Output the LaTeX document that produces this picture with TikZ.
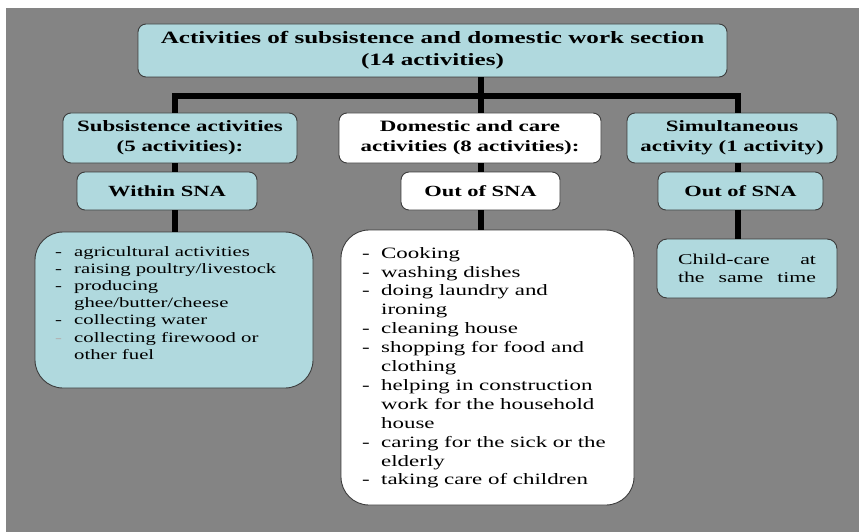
\documentclass[tikz,border=0pt]{standalone}
\usepackage{fontspec}
\setmainfont{Liberation Serif}[FakeStretch=1.45]
\usetikzlibrary{positioning}

\definecolor{panelgray}{HTML}{848484}
\definecolor{boxblue}{HTML}{B0D9DE}
\definecolor{edgegray}{HTML}{3C3C3C}

% one item of a dashed list, and a wrapped continuation line
\newcommand{\dashline}[2][black]{\makebox[19pt][l]{\textcolor{#1}{-}}#2}
\newcommand{\wrapline}[1]{\hspace*{19pt}#1}

\begin{document}
\begin{tikzpicture}[x=1pt, y=-1pt,
    box/.style={draw=edgegray, line width=0.9pt, rounded corners=8pt, inner sep=0pt, align=center},
    bluebox/.style={box, fill=boxblue},
    whitebox/.style={box, fill=white},
    headbox/.style={minimum height=50pt, font=\fontsize{15.8}{20}\selectfont\bfseries},
    snabox/.style={minimum height=38pt, font=\fontsize{15.5}{19}\selectfont\bfseries},
    link/.style={line width=6pt, line join=miter}]
    \useasboundingbox (0,0) rectangle (859,532);

    % Panel
    \fill[panelgray] (6,8) rectangle (859,532);

    % Section box
    \node[bluebox, minimum width=589pt, minimum height=53pt, font=\fontsize{17.3}{22}\selectfont\bfseries]
        (title) at (432.5,50.5) {Activities of subsistence and domestic work section\\(14 activities)};

    % Column heads
    \node[bluebox, headbox, minimum width=234pt] (subsHead) at (180,138) {Subsistence activities\\(5 activities):};
    \node[whitebox, headbox, minimum width=262pt] (careHead) at (470,138) {Domestic and care\\activities (8 activities):};
    \node[bluebox, headbox, minimum width=210pt] (simHead) at (732,138) {Simultaneous\\activity (1 activity)};

    % SNA boxes
    \node[bluebox, snabox, minimum width=180pt] (subsSna) at (167,191) {Within SNA};
    \node[whitebox, snabox, minimum width=159pt] (careSna) at (480.5,191) {Out of SNA};
    \node[bluebox, snabox, minimum width=165pt] (simSna) at (740.5,191) {Out of SNA};

    % Activity lists
    \node[bluebox, rounded corners=28pt, minimum width=278pt, minimum height=156pt] (subsList) at (174,310) {};
    \node[whitebox, rounded corners=28pt, minimum width=293pt, minimum height=275pt] (careList) at (487.5,367.5) {};
    \node[bluebox, rounded corners=10pt, minimum width=180pt, minimum height=59pt, font=\fontsize{15}{18}\selectfont]
        (simBox) at (747,268.5) {\makebox[138pt][s]{Child-care at}\\\makebox[138pt][s]{the same time}};

    \node[anchor=north west, inner sep=0pt, align=left, font=\fontsize{14.3}{17.2}\selectfont]
        (subsItems) at (55,246) {%
        \dashline{agricultural activities}\\
        \dashline{raising poultry/livestock}\\
        \dashline{producing}\\
        \wrapline{ghee/butter/cheese}\\
        \dashline{collecting water}\\
        \dashline[gray!60]{collecting firewood or}\\
        \wrapline{other fuel}};

    \node[anchor=north west, inner sep=0pt, align=left, font=\fontsize{15.8}{18.9}\selectfont]
        (careItems) at (362,247) {%
        \dashline{Cooking}\\
        \dashline{washing dishes}\\
        \dashline{doing laundry and}\\
        \wrapline{ironing}\\
        \dashline{cleaning house}\\
        \dashline{shopping for food and}\\
        \wrapline{clothing}\\
        \dashline{helping in construction}\\
        \wrapline{work for the household}\\
        \wrapline{house}\\
        \dashline{caring for the sick or the}\\
        \wrapline{elderly}\\
        \dashline{taking care of children}};

    % Connectors
    \coordinate (barL) at (175,96);
    \coordinate (barM) at (481,96);
    \coordinate (barR) at (738,96);
    \draw[link] (barL |- subsHead.north) -- (barL) -- (barR) -- (barR |- simHead.north);
    \draw[link] (barM |- title.south) -- (barM |- careHead.north);
    \foreach \colx/\hd/\sn/\ls in {barL/subsHead/subsSna/subsList, barM/careHead/careSna/careList, barR/simHead/simSna/simBox} {
        \draw[link] (\hd.south -| \colx) -- (\sn.north -| \colx);
        \draw[link] (\sn.south -| \colx) -- (\ls.north -| \colx);
    }
\end{tikzpicture}
\end{document}
